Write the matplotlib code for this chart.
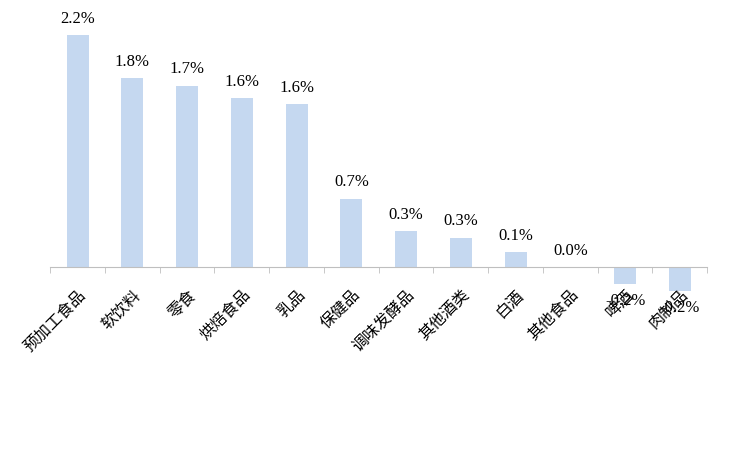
import matplotlib.pyplot as plt

plt.rcParams['font.family'] = ['Liberation Serif', 'Noto Sans CJK SC']

categories = ['预加工食品', '软饮料', '零食', '烘焙食品', '乳品', '保健品', '调味发酵品',
              '其他酒类', '白酒', '其他食品', '啤酒', '肉制品']
values = [2.2, 1.79, 1.72, 1.60, 1.545, 0.65, 0.34, 0.28, 0.14, 0.002, -0.16, -0.23]
labels = ['2.2%', '1.8%', '1.7%', '1.6%', '1.6%', '0.7%', '0.3%', '0.3%', '0.1%', '0.0%', '-0.2%', '-0.2%']

fig = plt.figure(figsize=(7.39, 4.5), dpi=100)
ax = fig.add_axes([0.068, 0.289, 0.889, 0.68])
x = range(len(categories))
ax.bar(x, values, width=0.4, color='#c5d8f0')
for i, (v, t) in enumerate(zip(values, labels)):
    if v >= 0:
        ax.text(i, v + 0.08, t, ha='center', va='bottom', fontsize=12)
    else:
        ax.text(i, v - 0.08, t, ha='center', va='top', fontsize=12)

ax.set_xlim(-0.5, len(categories) - 0.5)
ax.set_ylim(-0.5, 2.4)
for s in ['top', 'right', 'left']:
    ax.spines[s].set_visible(False)
ax.spines['bottom'].set_position(('data', 0))
ax.spines['bottom'].set_color('#bfbfbf')
ax.set_yticks([])
ax.set_xticks(list(x))
ax.set_xticks([i + 0.5 for i in range(-1, len(categories))], minor=True)
ax.tick_params(axis='x', which='minor', length=4, color='#bfbfbf')
ax.tick_params(axis='x', which='major', length=0, pad=14)
ax.set_xticklabels(categories, rotation=45, ha='right', va='top',
                   fontsize=11.5, family=['Noto Sans CJK SC'], rotation_mode='anchor')

fig.savefig('out.png')
